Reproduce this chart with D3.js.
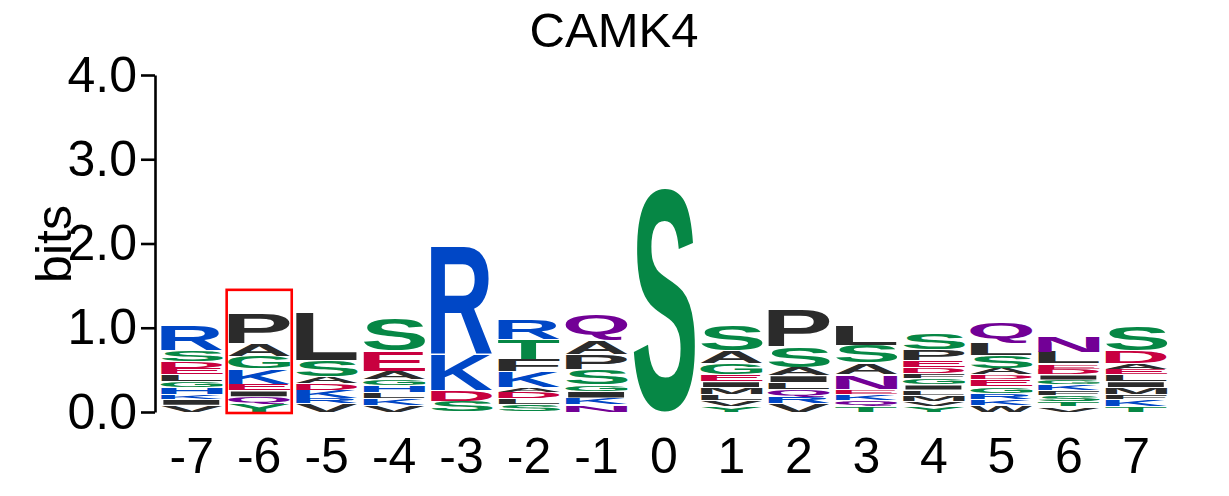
<!DOCTYPE html>
<html>
<head>
<meta charset="utf-8">
<script src="https://cdn.jsdelivr.net/npm/d3@7"></script>
<style>
  html, body { margin: 0; padding: 0; background: #fff; }
  svg { display: block; }
</style>
</head>
<body>
<svg id="chart" width="1229" height="496"></svg>
<script>
// ---------- data ----------
const title = "CAMK4";
const positions = [-7, -6, -5, -4, -3, -2, -1, 0, 1, 2, 3, 4, 5, 6, 7];
const yTicks = [0, 1, 2, 3, 4];
// letters per position, listed bottom -> top
const stackLetters = [
  ["V","I","K","H","G","L","E","D","S","R"],
  ["Y","Q","I","E","K","G","A","P"],
  ["V","R","K","D","A","S","L"],
  ["V","K","L","H","G","A","E","S"],
  ["S","D","K","R"],
  ["S","L","D","A","K","F","T","R"],
  ["N","K","I","G","S","P","A","Q"],
  ["S"],
  ["Y","V","L","M","I","E","G","A","S"],
  ["V","R","Q","L","I","A","S","P"],
  ["T","Q","K","E","N","A","S","L"],
  ["Y","V","M","L","I","G","F","D","E","P","S"],
  ["W","K","R","G","E","D","A","S","L","Q"],
  ["V","T","S","F","K","G","I","D","E","L","N"],
  ["T","K","F","M","I","L","E","A","D","S"]
];
// heights in bits, matching stackLetters
const stackBits = [
  [0.08,0.07,0.06,0.08,0.07,0.08,0.08,0.08,0.13,0.30],
  [0.10,0.08,0.07,0.08,0.18,0.15,0.15,0.37],
  [0.095,0.07,0.095,0.08,0.08,0.19,0.58],
  [0.08,0.08,0.07,0.08,0.08,0.095,0.24,0.39],
  [0.13,0.13,0.43,1.27],
  [0.085,0.07,0.08,0.05,0.19,0.15,0.24,0.24],
  [0.085,0.08,0.08,0.08,0.18,0.18,0.17,0.30],
  [2.66],
  [0.07,0.07,0.07,0.08,0.07,0.08,0.14,0.15,0.30],
  [0.095,0.08,0.095,0.08,0.08,0.095,0.25,0.44],
  [0.07,0.07,0.07,0.06,0.17,0.14,0.21,0.24],
  [0.07,0.06,0.07,0.06,0.06,0.08,0.06,0.07,0.08,0.13,0.19],
  [0.08,0.07,0.07,0.08,0.08,0.06,0.08,0.15,0.15,0.24],
  [0.06,0.06,0.07,0.06,0.07,0.06,0.06,0.07,0.06,0.14,0.19],
  [0.07,0.08,0.06,0.08,0.07,0.08,0.07,0.07,0.15,0.285]
];
const highlightPos = -6;
const highlightTopBits = 1.45;

// ---------- styles ----------
const colorOf = {
  G:"#068745", S:"#068745", T:"#068745", Y:"#068745", C:"#068745",
  N:"#720096", Q:"#720096",
  K:"#0047C6", R:"#0047C6", H:"#0047C6",
  D:"#C8003F", E:"#C8003F",
  A:"#2B2B2B", V:"#2B2B2B", L:"#2B2B2B", I:"#2B2B2B", P:"#2B2B2B",
  W:"#2B2B2B", F:"#2B2B2B", M:"#2B2B2B"
};
const FONT = '"Liberation Sans", Arial, Helvetica, sans-serif';

function draw() {
  const svg = d3.select("#chart");

  const x = d3.scaleBand().domain(positions).range([158, 1170])
    .paddingInner(0.08).paddingOuter(0.04);
  const y = d3.scaleLinear().domain([0, 4]).range([412, 75]);

  // glyph metrics (tight bounds)
  const cv = document.createElement("canvas");
  const ctx = cv.getContext("2d");
  ctx.font = "bold 100px " + FONT;
  const metricCache = {};
  function metrics(ch) {
    if (!metricCache[ch]) {
      const m = ctx.measureText(ch);
      metricCache[ch] = {
        l: m.actualBoundingBoxLeft, r: m.actualBoundingBoxRight,
        a: m.actualBoundingBoxAscent, d: m.actualBoundingBoxDescent
      };
    }
    return metricCache[ch];
  }

  // title
  svg.append("text")
    .attr("x", 614).attr("y", 47)
    .attr("text-anchor", "middle")
    .attr("font-family", FONT).attr("font-size", 49)
    .attr("fill", "#000")
    .text(title);

  // letters
  const gLogo = svg.append("g");
  positions.forEach((pos, i) => {
    const letters = stackLetters[i];
    const bits = stackBits[i];
    let cum = 0;
    const x0 = x(pos), w = x.bandwidth();
    letters.forEach((ch, j) => {
      const yBottom = y(cum);
      cum += bits[j];
      const yTop = y(cum);
      let h = yBottom - yTop;
      let top = yTop;
      if (h > 4) { top += 0.5; h -= 1; }
      const m = metrics(ch);
      const sx = w / (m.l + m.r);
      const sy = h / (m.a + m.d);
      gLogo.append("text")
        .attr("font-family", FONT).attr("font-weight", "bold").attr("font-size", 100)
        .attr("fill", colorOf[ch])
        .attr("transform", `translate(${x0},${top}) scale(${sx},${sy}) translate(${m.l},${m.a})`)
        .text(ch);
    });
  });

  // y axis
  const yAxis = d3.axisLeft(y).tickValues(yTicks).tickFormat(d3.format(".1f"))
    .tickSize(14).tickSizeOuter(0).tickPadding(4);
  const gy = svg.append("g").attr("transform", "translate(155,0)").call(yAxis);
  gy.selectAll("path, line").attr("stroke", "#000").attr("stroke-width", 2.6);
  gy.selectAll("text").attr("font-family", FONT).attr("font-size", 50).attr("fill", "#000");

  // x axis labels
  const xAxis = d3.axisBottom(x).tickSize(0).tickPadding(25.5).tickFormat(d => String(d));
  const gx = svg.append("g").attr("transform", "translate(0,412)").call(xAxis);
  gx.select(".domain").remove();
  gx.selectAll("text").attr("font-family", FONT).attr("font-size", 50).attr("fill", "#000");

  // y label
  svg.append("text")
    .attr("transform", "translate(71,244) rotate(-90)")
    .attr("text-anchor", "middle")
    .attr("font-family", FONT).attr("font-size", 50).attr("fill", "#000")
    .text("bits");

  // highlight box
  svg.append("rect")
    .attr("x", x(highlightPos) - 1.5)
    .attr("y", y(highlightTopBits))
    .attr("width", x.bandwidth() + 3)
    .attr("height", y(0) - y(highlightTopBits) + 1)
    .attr("fill", "none").attr("stroke", "#FF0000").attr("stroke-width", 2.6);
}

if (document.fonts && document.fonts.load) {
  document.fonts.load('bold 100px "Liberation Sans"').then(draw, draw);
} else { draw(); }
</script>
</body>
</html>
